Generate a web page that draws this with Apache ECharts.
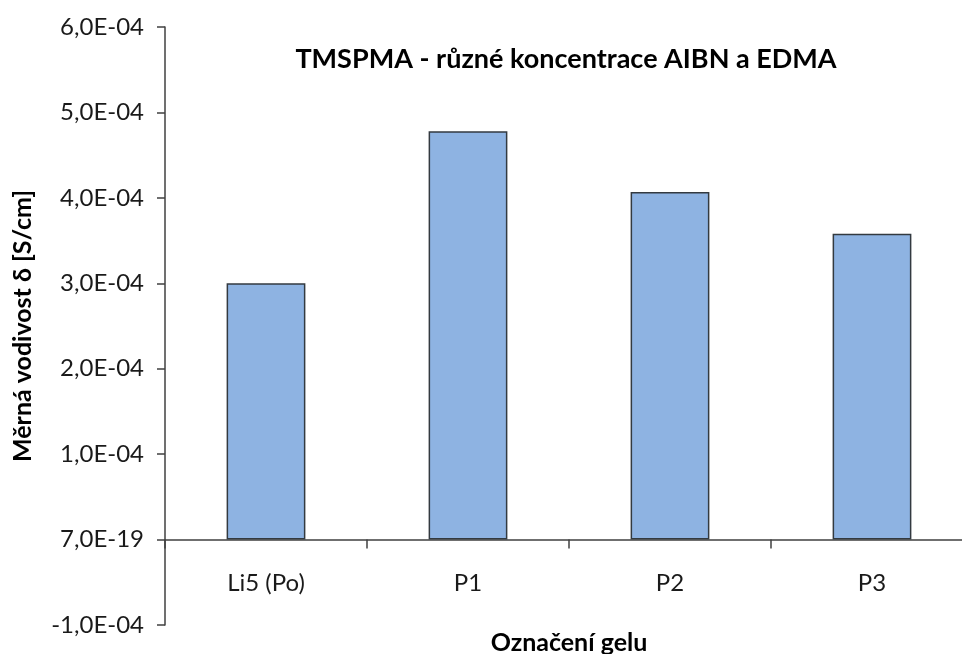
<!DOCTYPE html>
<html>
<head>
<meta charset="utf-8">
<script src="https://cdn.jsdelivr.net/npm/echarts@6/dist/echarts.min.js"></script>
<style>
  html, body { margin: 0; padding: 0; background: #fff; }
  #chart { width: 962px; height: 654px; }
</style>
</head>
<body>
<div id="chart"></div>
<script>
// Gel samples and their measured specific conductivity [S/cm]
const categories = ['Li5 (Po)', 'P1', 'P2', 'P3'];
const conductivity = [3.0e-4, 4.78e-4, 4.07e-4, 3.58e-4];
// Tick labels as printed on the value axis, bottom to top
const yTickLabels = ['-1,0E-04', '7,0E-19', '1,0E-04', '2,0E-04', '3,0E-04', '4,0E-04', '5,0E-04', '6,0E-04'];

const yMin = -1e-4, yMax = 6e-4, yStep = 1e-4;
const font = 'Lato, "Open Sans", sans-serif';
const axisColor = '#404040';

const chart = echarts.init(document.getElementById('chart'), null, { renderer: 'canvas' });

chart.setOption({
  animation: false,
  backgroundColor: '#ffffff',
  title: {
    text: 'TMSPMA - různé koncentrace AIBN a EDMA',
    left: 561,
    top: 41,
    textAlign: 'center',
    textStyle: { fontFamily: font, fontSize: 27, fontWeight: 'bold', color: '#000' }
  },
  grid: { left: 165, right: -11, top: 27, bottom: 29, containLabel: false, outerBoundsMode: 'none' },
  xAxis: {
    type: 'category',
    data: categories,
    name: 'Označení gelu',
    nameLocation: 'middle',
    // category labels and the axis name sit relative to the grid's bottom edge
    nameGap: 5,
    nameTextStyle: { fontFamily: font, fontSize: 25, fontWeight: 'bold', color: '#000' },
    axisLine: { onZero: true, lineStyle: { color: axisColor, width: 1.5 } },
    axisTick: { show: true, alignWithLabel: false, length: 9, lineStyle: { color: axisColor, width: 1.5 } },
    axisLabel: { fontFamily: font, fontSize: 24, color: '#1a1a1a', margin: -54 },
    splitLine: { show: false }
  },
  yAxis: {
    type: 'value',
    min: yMin,
    max: yMax,
    interval: yStep,
    name: 'Měrná vodivost δ [S/cm]',
    nameLocation: 'middle',
    nameGap: 130,
    nameRotate: 90,
    nameTextStyle: { fontFamily: font, fontSize: 25, fontWeight: 'bold', color: '#000' },
    axisLine: { show: true, lineStyle: { color: axisColor, width: 1.5 } },
    axisTick: { show: true, length: 8, lineStyle: { color: axisColor, width: 1.5 } },
    axisLabel: {
      fontFamily: font, fontSize: 24, color: '#1a1a1a', margin: 21,
      formatter: function (v) {
        const i = Math.round((v - yMin) / yStep);
        return yTickLabels[i] !== undefined ? yTickLabels[i] : '';
      }
    },
    splitLine: { show: false }
  },
  series: [{
    type: 'bar',
    data: conductivity,
    barWidth: '39%',
    itemStyle: { color: '#8eb3e2', borderColor: '#333a40', borderWidth: 1.5 }
  }]
});
</script>
</body>
</html>
